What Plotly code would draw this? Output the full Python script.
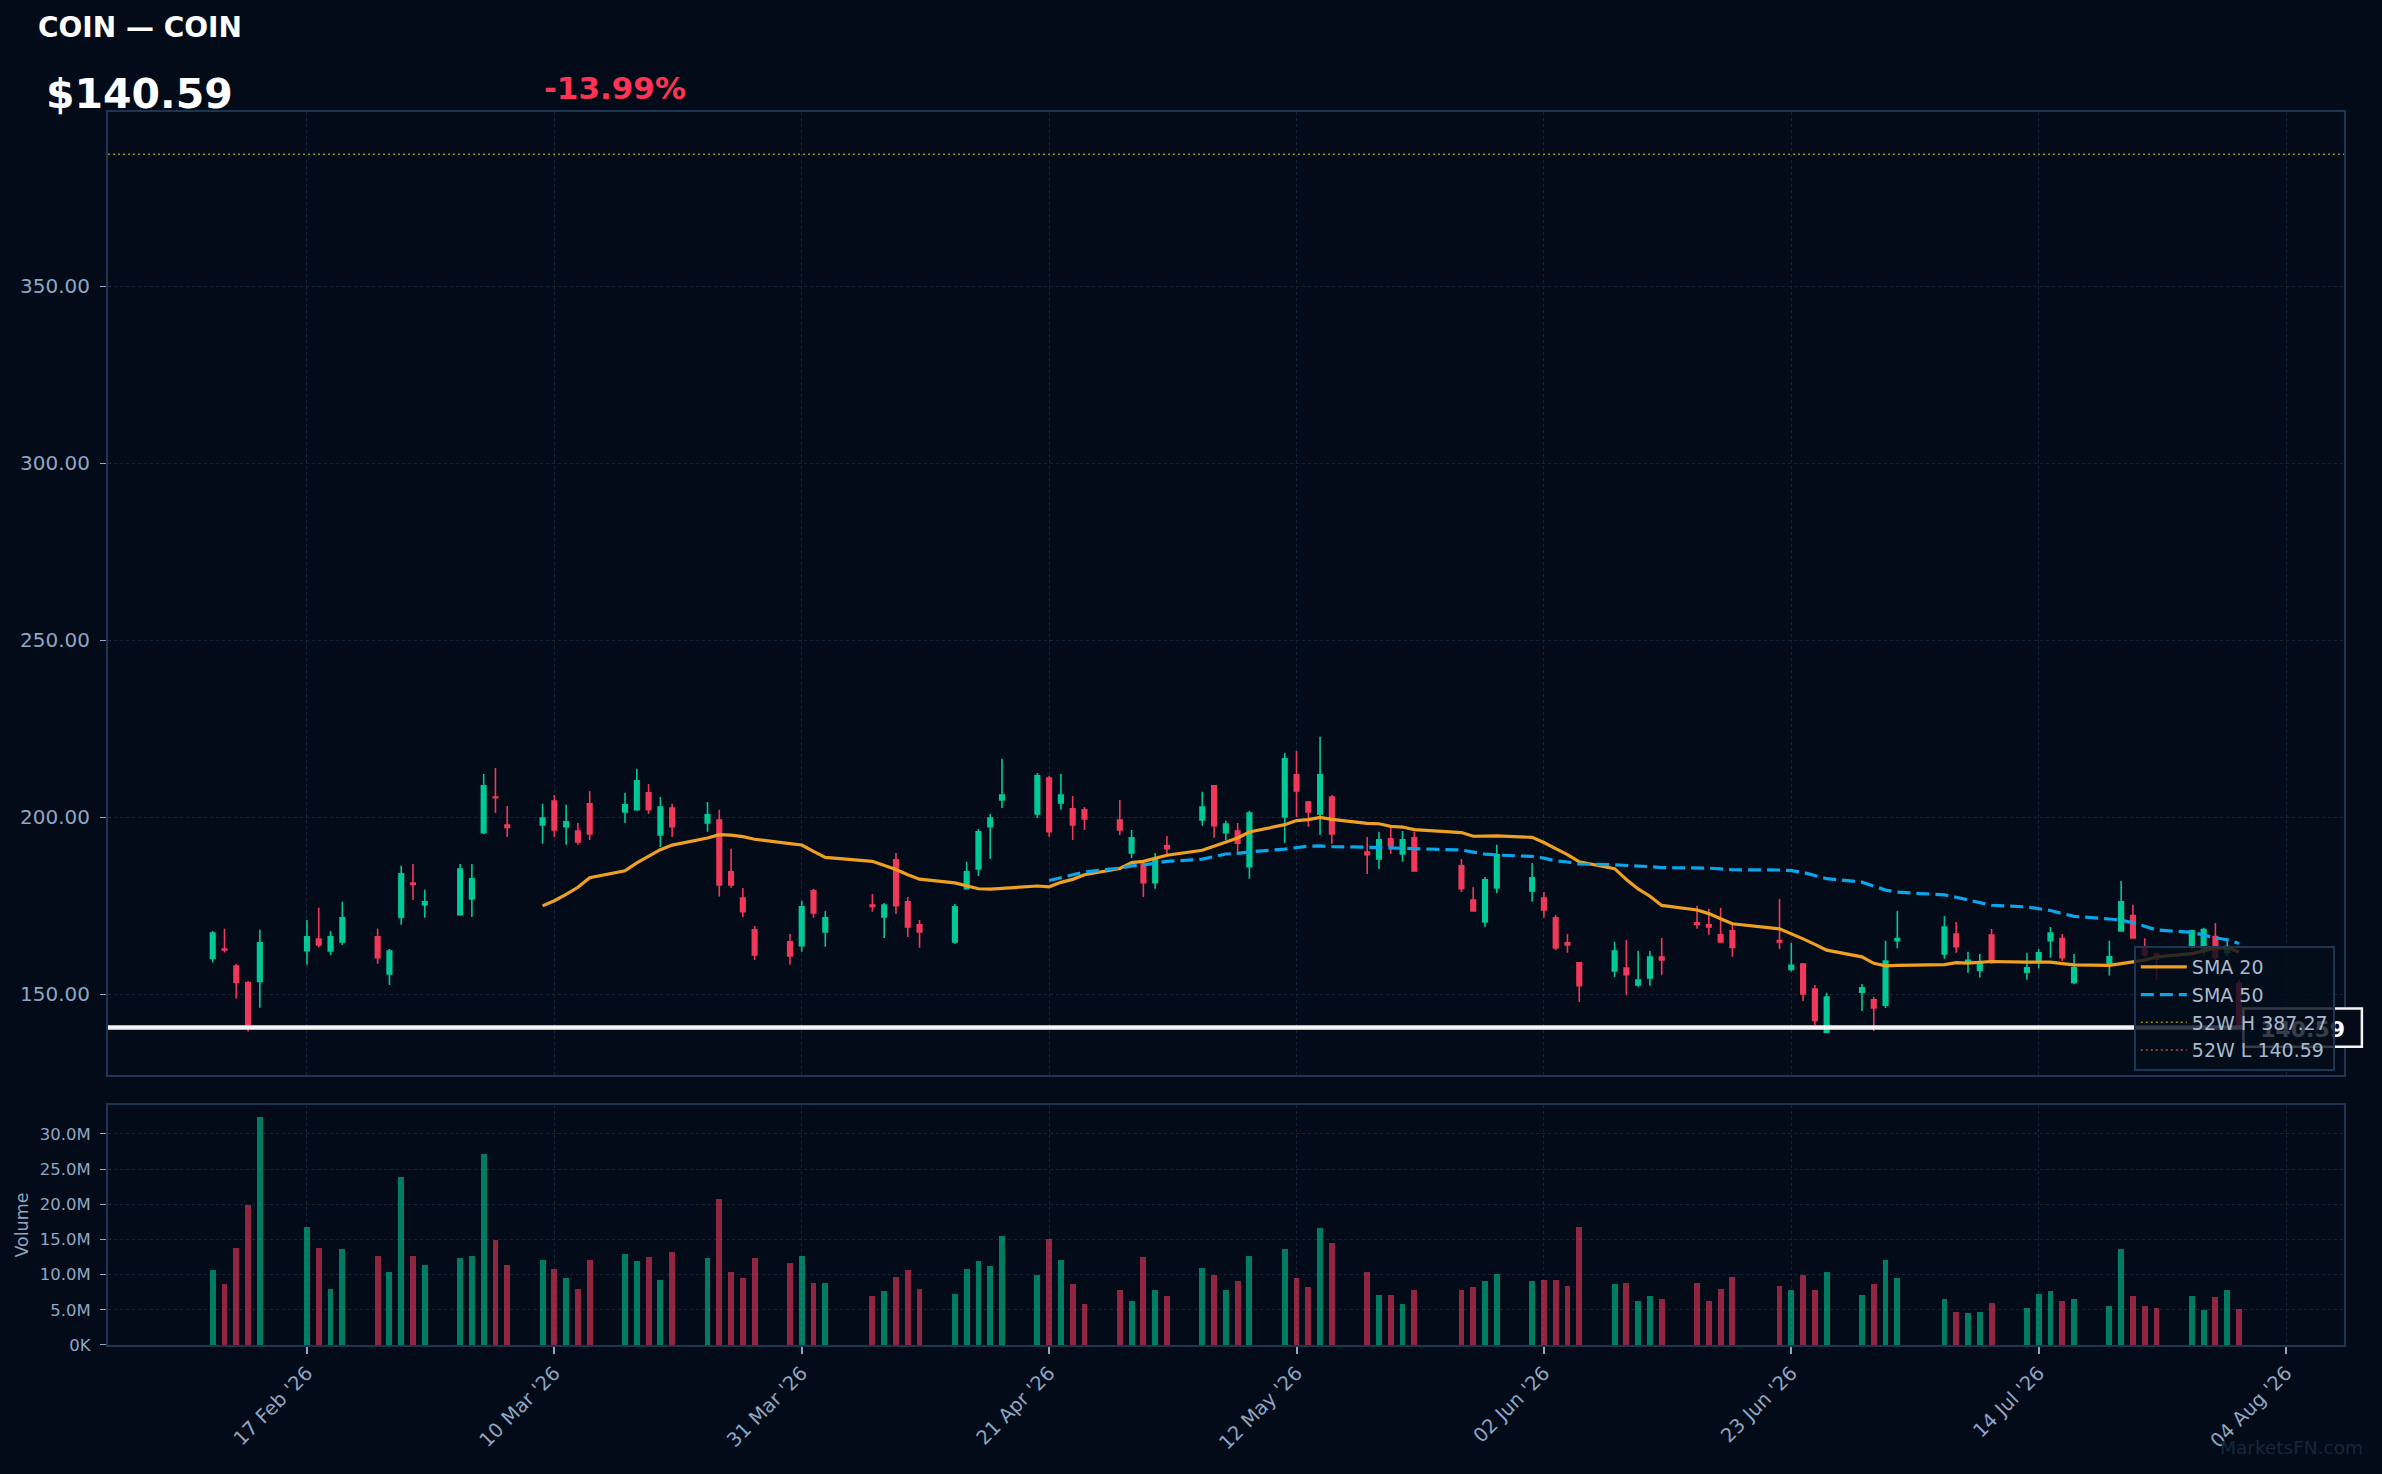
import pandas as pd
import plotly.graph_objects as go

# ---------------- data ----------------
ticker = "COIN"
dates = [
    "2026-02-09", "2026-02-10", "2026-02-11", "2026-02-12", "2026-02-13",
    "2026-02-17", "2026-02-18", "2026-02-19", "2026-02-20",
    "2026-02-23", "2026-02-24", "2026-02-25", "2026-02-26", "2026-02-27",
    "2026-03-02", "2026-03-03", "2026-03-04", "2026-03-05", "2026-03-06",
    "2026-03-09", "2026-03-10", "2026-03-11", "2026-03-12", "2026-03-13",
    "2026-03-16", "2026-03-17", "2026-03-18", "2026-03-19", "2026-03-20",
    "2026-03-23", "2026-03-24", "2026-03-25", "2026-03-26", "2026-03-27",
    "2026-03-30", "2026-03-31", "2026-04-01", "2026-04-02",
    "2026-04-06", "2026-04-07", "2026-04-08", "2026-04-09", "2026-04-10",
    "2026-04-13", "2026-04-14", "2026-04-15", "2026-04-16", "2026-04-17",
    "2026-04-20", "2026-04-21", "2026-04-22", "2026-04-23", "2026-04-24",
    "2026-04-27", "2026-04-28", "2026-04-29", "2026-04-30", "2026-05-01",
    "2026-05-04", "2026-05-05", "2026-05-06", "2026-05-07", "2026-05-08",
    "2026-05-11", "2026-05-12", "2026-05-13", "2026-05-14", "2026-05-15",
    "2026-05-18", "2026-05-19", "2026-05-20", "2026-05-21", "2026-05-22",
    "2026-05-26", "2026-05-27", "2026-05-28", "2026-05-29",
    "2026-06-01", "2026-06-02", "2026-06-03", "2026-06-04", "2026-06-05",
    "2026-06-08", "2026-06-09", "2026-06-10", "2026-06-11", "2026-06-12",
    "2026-06-15", "2026-06-16", "2026-06-17", "2026-06-18",
    "2026-06-22", "2026-06-23", "2026-06-24", "2026-06-25", "2026-06-26",
    "2026-06-29", "2026-06-30", "2026-07-01", "2026-07-02",
    "2026-07-06", "2026-07-07", "2026-07-08", "2026-07-09", "2026-07-10",
    "2026-07-13", "2026-07-14", "2026-07-15", "2026-07-16", "2026-07-17",
    "2026-07-20", "2026-07-21", "2026-07-22", "2026-07-23", "2026-07-24",
    "2026-07-27", "2026-07-28", "2026-07-29", "2026-07-30", "2026-07-31",
]
opens = [
    160.1, 162.8, 158.0, 153.2, 153.6,
    162.3, 165.6, 162.2, 164.8,
    166.2, 155.7, 171.7, 181.4, 175.3,
    172.5, 176.9, 195.6, 205.7, 197.8,
    197.8, 204.6, 197.3, 196.1, 203.8,
    201.5, 202.1, 206.9, 195.0, 202.6,
    198.4, 199.2, 184.6, 177.2, 168.2,
    164.8, 163.7, 179.2, 167.6,
    175.2, 171.8, 188.0, 176.1, 169.6,
    164.8, 179.8, 185.4, 197.3, 204.9,
    200.9, 211.1, 204.0, 202.4, 202.1,
    199.2, 189.9, 186.8, 181.5, 191.9,
    199.2, 208.9, 195.6, 196.1, 186.0,
    200.1, 212.0, 204.3, 200.9, 205.7,
    190.2, 188.2, 193.9, 189.6, 194.2,
    186.3, 176.6, 170.4, 180.0,
    179.2, 177.2, 171.6, 164.5, 158.9,
    156.6, 157.4, 152.6, 154.6, 160.5,
    170.2, 169.6, 166.8, 167.9,
    165.2, 157.0, 158.5, 151.5, 139.2,
    150.6, 148.4, 146.9, 165.1,
    161.4, 167.0, 159.0, 156.7, 166.7,
    156.2, 159.6, 165.1, 165.7, 153.3,
    158.3, 167.9, 172.2, 163.1, 161.5,
    163.6, 162.0, 166.3, 161.8, 153.0,
]
highs = [
    167.9, 168.5, 158.6, 153.8, 168.2,
    171.0, 174.4, 167.9, 176.1,
    168.5, 162.8, 186.3, 186.8, 179.5,
    186.8, 186.8, 212.2, 213.9, 203.2,
    203.8, 206.3, 203.5, 198.4, 207.4,
    206.9, 213.7, 209.4, 205.7, 203.8,
    204.3, 202.1, 191.1, 180.0, 169.3,
    167.0, 176.4, 179.8, 173.5,
    178.3, 175.8, 189.9, 177.5, 171.0,
    175.5, 187.4, 196.7, 200.9, 216.5,
    212.5, 211.7, 212.2, 206.0, 202.9,
    204.9, 196.4, 187.9, 189.9, 194.7,
    207.2, 209.1, 199.0, 198.4, 201.8,
    218.2, 218.7, 204.6, 222.7, 206.3,
    194.4, 195.9, 197.3, 196.1, 195.9,
    188.2, 180.3, 183.1, 192.2,
    187.1, 178.9, 172.4, 167.0, 159.1,
    164.8, 165.3, 162.2, 162.2, 165.9,
    175.0, 174.1, 174.4, 169.6,
    176.9, 164.5, 158.8, 152.6, 150.4,
    152.9, 149.2, 165.1, 173.5,
    172.1, 170.4, 162.0, 161.4, 168.4,
    161.7, 162.8, 169.0, 167.0, 161.4,
    165.1, 182.0, 175.3, 165.8, 161.8,
    168.2, 168.8, 170.1, 165.8, 154.0,
]
lows = [
    159.0, 161.8, 148.8, 139.5, 146.2,
    158.3, 163.2, 161.1, 163.9,
    158.6, 152.6, 169.6, 176.6, 171.6,
    172.2, 171.8, 195.3, 201.2, 194.4,
    192.5, 194.4, 192.2, 192.2, 193.6,
    198.4, 201.8, 200.9, 191.6, 194.4,
    195.9, 177.6, 180.1, 171.8, 159.7,
    158.3, 162.0, 171.6, 163.4,
    173.3, 165.9, 172.7, 166.2, 163.1,
    164.2, 179.8, 183.4, 188.2, 202.6,
    199.8, 194.4, 202.1, 193.6, 196.4,
    195.0, 188.5, 177.5, 179.8, 189.6,
    197.6, 194.2, 193.6, 190.2, 182.6,
    192.7, 200.1, 197.3, 195.0, 192.5,
    184.0, 185.4, 189.6, 187.4, 184.6,
    178.9, 173.5, 169.0, 178.6,
    176.1, 171.6, 162.5, 161.7, 147.8,
    154.9, 149.8, 152.1, 152.4, 155.5,
    168.5, 166.8, 164.5, 160.6,
    162.8, 156.4, 148.1, 141.3, 139.2,
    145.3, 139.6, 146.1, 163.0,
    160.0, 161.7, 156.1, 154.7, 158.6,
    154.1, 157.3, 160.3, 159.4, 152.8,
    155.3, 167.7, 165.9, 160.5, 154.0,
    162.5, 161.0, 159.5, 160.8, 140.3,
]
closes = [
    167.3, 162.5, 153.3, 140.9, 164.5,
    166.2, 163.9, 166.2, 171.6,
    160.3, 162.2, 184.0, 181.0, 176.1,
    185.4, 182.6, 208.9, 205.5, 197.1,
    199.8, 196.4, 198.7, 193.0, 195.3,
    203.5, 210.3, 202.1, 202.9, 197.3,
    200.7, 180.9, 180.9, 173.3, 161.1,
    160.8, 174.7, 173.0, 171.6,
    174.8, 175.2, 175.0, 169.0, 167.6,
    174.7, 184.6, 195.9, 199.8, 206.3,
    211.7, 195.9, 206.3, 197.8, 199.5,
    196.4, 194.2, 181.5, 188.2, 191.1,
    202.9, 197.6, 198.1, 192.7, 201.2,
    216.5, 207.4, 201.5, 212.0, 195.3,
    189.4, 193.6, 191.9, 193.6, 184.8,
    179.8, 173.5, 182.3, 189.4,
    182.9, 173.8, 163.1, 163.9, 152.4,
    162.2, 155.5, 154.0, 160.5, 159.7,
    169.7, 169.0, 164.8, 163.2,
    164.8, 158.2, 150.1, 142.6, 149.2,
    151.8, 146.1, 159.4, 165.7,
    169.0, 163.4, 159.6, 158.6, 159.6,
    157.5, 161.7, 167.3, 160.3, 157.5,
    160.6, 176.1, 165.9, 161.1, 160.0,
    167.9, 168.3, 160.4, 163.46, 140.59,
]
volumes_m = [
    10.6, 8.7, 13.8, 19.9, 32.4,
    16.8, 13.8, 8.0, 13.7,
    12.7, 10.4, 23.8, 12.7, 11.4,
    12.3, 12.7, 27.2, 14.9, 11.4,
    12.1, 10.8, 9.5, 8.0, 12.1,
    12.9, 11.9, 12.5, 9.3, 13.2,
    12.3, 20.7, 10.4, 9.5, 12.3,
    11.7, 12.7, 8.8, 8.8,
    6.9, 7.6, 9.7, 10.6, 8.0,
    7.3, 10.8, 11.9, 11.2, 15.5,
    9.9, 15.1, 12.1, 8.6, 5.8,
    7.8, 6.3, 12.5, 7.8, 6.9,
    11.0, 9.9, 7.8, 9.1, 12.7,
    13.6, 9.5, 8.2, 16.6, 14.5,
    10.4, 7.1, 7.1, 5.8, 7.8,
    7.8, 8.2, 9.1, 10.1,
    9.1, 9.3, 9.3, 8.4, 16.8,
    8.6, 8.8, 6.3, 6.9, 6.5,
    8.8, 6.3, 8.0, 9.7,
    8.4, 7.8, 9.9, 7.8, 10.4,
    7.1, 8.6, 12.1, 9.5,
    6.6, 4.7, 4.5, 4.7, 6.0,
    5.2, 7.3, 7.6, 6.2, 6.6,
    5.5, 13.6, 6.9, 5.5, 5.2,
    6.9, 5.0, 6.8, 7.8, 5.1,
]
high_52w = 387.27
low_52w = 140.59

tick_dates = ["2026-02-17", "2026-03-10", "2026-03-31", "2026-04-21", "2026-05-12",
              "2026-06-02", "2026-06-23", "2026-07-14", "2026-08-04"]
tick_labels = ["17 Feb '26", "10 Mar '26", "31 Mar '26", "21 Apr '26", "12 May '26",
               "02 Jun '26", "23 Jun '26", "14 Jul '26", "04 Aug '26"]
price_ticks = [150, 200, 250, 300, 350]
vol_ticks_m = [0, 5, 10, 15, 20, 25, 30]
vol_tick_labels = ["0K", "5.0M", "10.0M", "15.0M", "20.0M", "25.0M", "30.0M"]

# ---------------- styles ----------------
BG = "#020b17"
FRAME = "#1d3553"
GRID = "#15263a"
TXT = "#8fa6c4"
UP = "#00c896"
DOWN = "#f0395a"
UP_VOL = "rgba(0,200,150,0.6)"
DOWN_VOL = "rgba(240,57,90,0.6)"
ORANGE = "#f0a020"
BLUE = "#0aa6ea"
FONT = "DejaVu Sans"

sma20 = pd.Series(closes).rolling(20).mean()
sma50 = pd.Series(closes).rolling(50).mean()
last = closes[-1]
chg = (closes[-1] / closes[-2] - 1) * 100
vol_colors = [UP_VOL if c >= o else DOWN_VOL for o, c in zip(opens, closes)]
volumes = [v * 1e6 for v in volumes_m]

fig = go.Figure()
fig.add_trace(go.Candlestick(
    x=dates, open=opens, high=highs, low=lows, close=closes,
    increasing=dict(line=dict(color=UP, width=1.6), fillcolor=UP),
    decreasing=dict(line=dict(color=DOWN, width=1.6), fillcolor=DOWN),
    whiskerwidth=0, showlegend=False, xaxis="x", yaxis="y", hoverinfo="skip",
))
fig.add_trace(go.Scatter(x=dates, y=sma20, mode="lines", name="SMA 20",
                         line=dict(color=ORANGE, width=3.2), legendrank=1,
                         xaxis="x", yaxis="y"))
fig.add_trace(go.Scatter(x=dates, y=sma50, mode="lines", name="SMA 50",
                         line=dict(color=BLUE, width=3.2, dash="13px,6px"), legendrank=2,
                         xaxis="x", yaxis="y"))
fig.add_trace(go.Bar(x=dates, y=volumes, marker=dict(color=vol_colors, line=dict(width=0)),
                     width=0.5 * 86400000, showlegend=False, xaxis="x2", yaxis="y2",
                     hoverinfo="skip"))

shapes = [
    dict(type="line", xref="paper", yref="y", x0=0, x1=1, y0=high_52w, y1=high_52w,
         line=dict(color="#8e8e12", width=1.6, dash="2px,3px"),
         showlegend=True, name=f"52W H {high_52w:.2f}", legendrank=3),
    dict(type="line", xref="paper", yref="y", x0=0, x1=1, y0=low_52w, y1=low_52w,
         line=dict(color="#b0503c", width=1.6, dash="2px,3px"),
         showlegend=True, name=f"52W L {low_52w:.2f}", legendrank=4),
    dict(type="line", xref="paper", yref="y", x0=0, x1=1, y0=last, y1=last,
         line=dict(color="#f4f4f4", width=4.5)),
    dict(type="rect", xref="paper", yref="y", x0=0.955, x1=1.008,
         y0=last - 5.4, y1=last + 5.4,
         line=dict(color="#f4f4f4", width=2.5), fillcolor=BG,
         label=dict(text=f"<b>{last:.2f}</b>",
                    font=dict(color="#ffffff", size=22, family=FONT))),
]

annotations = [
    dict(text=f"<b>{ticker} \u2014 {ticker}</b>", xref="paper", yref="paper",
         x=-0.0322, y=1.0689, xanchor="left", yanchor="middle", showarrow=False,
         font=dict(family=FONT, size=28, color="#ffffff")),
    dict(text=f"<b>${last:.2f}</b>", xref="paper", yref="paper",
         x=-0.0285, y=1.0146, xanchor="left", yanchor="middle", showarrow=False,
         font=dict(family=FONT, size=41, color="#ffffff")),
    dict(text=f"<b>{chg:+.2f}%</b>", xref="paper", yref="paper",
         x=0.1941, y=1.0195, xanchor="left", yanchor="middle", showarrow=False,
         font=dict(family=FONT, size=31, color="#ff3355")),
    dict(text="MarketsFN.com", xref="paper", yref="paper",
         x=1.0094, y=-0.0835, xanchor="right", yanchor="middle", showarrow=False,
         font=dict(family=FONT, size=18.5, color="#17273a")),
]

xrange = ["2026-01-31 02:40", "2026-08-08 22:00"]
axis_common = dict(showline=True, mirror=True, linecolor=FRAME, linewidth=2,
                   gridcolor=GRID, griddash="dot", gridwidth=1, zeroline=False)

fig.update_layout(
    width=2382, height=1474,
    margin=dict(l=108, r=38, t=112, b=129),
    paper_bgcolor=BG, plot_bgcolor=BG,
    font=dict(family=FONT, color=TXT),
    showlegend=True,
    legend=dict(x=0.906, y=0.3236, xanchor="left", yanchor="top",
                bgcolor="rgba(4,13,26,0.8)", bordercolor=FRAME, borderwidth=2,
                font=dict(family=FONT, size=19, color="#a9b9cf"),
                itemwidth=46, tracegroupgap=0),
    boxgap=0.45,
    xaxis=dict(domain=[0, 1], anchor="y", type="date", range=xrange,
               rangeslider=dict(visible=False), tickvals=tick_dates,
               showticklabels=False, ticks="", showgrid=True, **axis_common),
    yaxis=dict(domain=[0.219, 1], anchor="x", range=[127.2, 399.2],
               tickvals=price_ticks, tickformat=".2f", ticks="outside", ticklen=6,
               tickcolor=TXT, tickfont=dict(size=20, color=TXT),
               ticklabelstandoff=6, showgrid=True, **axis_common),
    xaxis2=dict(domain=[0, 1], anchor="y2", type="date", range=xrange,
                tickvals=tick_dates, ticktext=tick_labels, tickangle=-45,
                ticks="outside", ticklen=7, tickcolor=TXT, tickwidth=2,
                tickfont=dict(size=19.5, color=TXT), showgrid=True, **axis_common),
    yaxis2=dict(domain=[0, 0.1946], anchor="x2", range=[0, 34.1e6],
                tickvals=[v * 1e6 for v in vol_ticks_m], ticktext=vol_tick_labels,
                ticks="outside", ticklen=6, tickcolor=TXT,
                tickfont=dict(size=16.5, color=TXT), ticklabelstandoff=6,
                title=dict(text="Volume", font=dict(size=17.5, color=TXT), standoff=7),
                showgrid=True, **axis_common),
    shapes=shapes,
    annotations=annotations,
    bargap=0,
)

fig.write_html("out.html")
